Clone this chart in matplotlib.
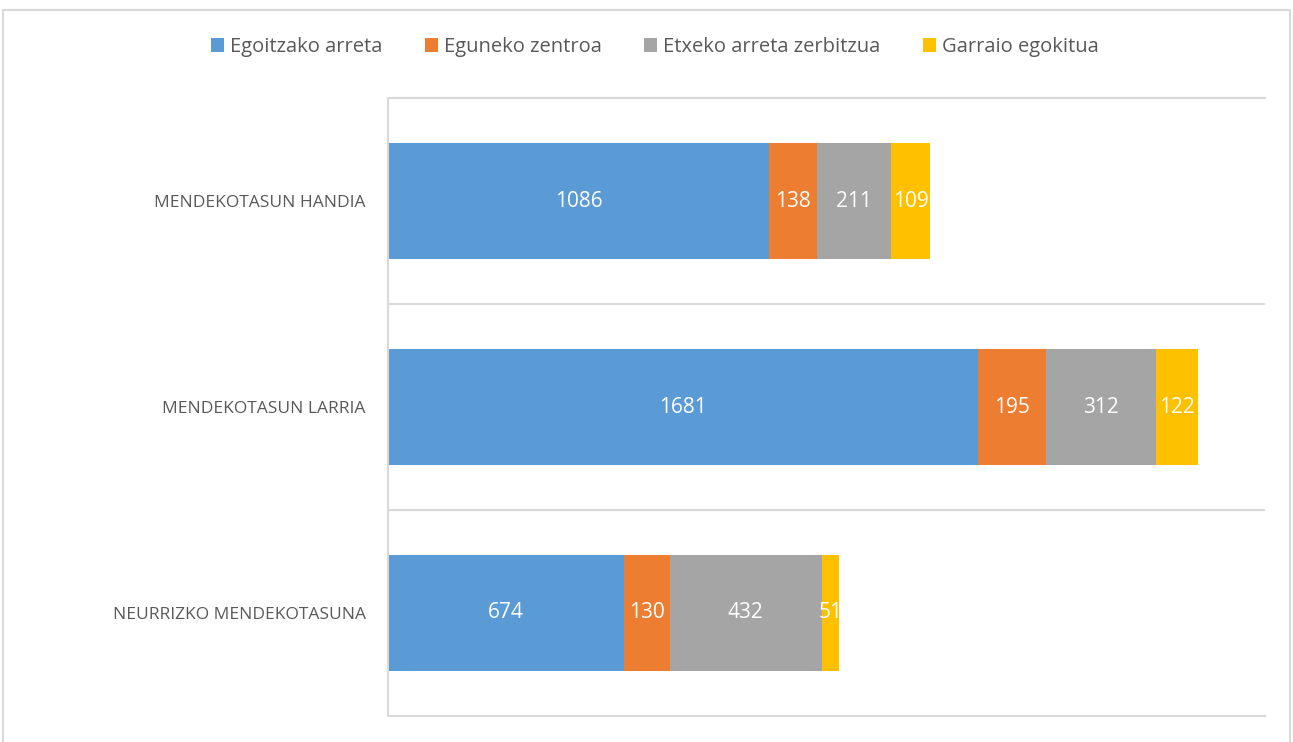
import matplotlib
matplotlib.use("Agg")
import matplotlib.pyplot as plt
from matplotlib.patches import Rectangle

categories = ["MENDEKOTASUN HANDIA", "MENDEKOTASUN LARRIA", "NEURRIZKO MENDEKOTASUNA"]
series_names = ["Egoitzako arreta", "Eguneko zentroa", "Etxeko arreta zerbitzua", "Garraio egokitua"]
egoitzako = [1086, 1681, 674]
eguneko = [138, 195, 130]
etxeko = [211, 312, 432]
garraio = [109, 122, 51]
series_values = [egoitzako, eguneko, etxeko, garraio]
colors = ["#5B9BD5", "#ED7D31", "#A5A5A5", "#FFC000"]

plt.rcParams['font.family'] = ['Open Sans', 'DejaVu Sans']

fig = plt.figure(figsize=(12.93, 7.42), dpi=100)
ax = fig.add_axes([388/1293, 1-716/742, (1265-388)/1293, (716-98)/742])

ypos = list(range(len(categories)))
left = [0]*len(categories)
for name, vals, col in zip(series_names, series_values, colors):
    bars = ax.barh(ypos, vals, left=left, height=0.56, color=col, label=name, edgecolor='none')
    for b, v in zip(bars, vals):
        ax.text(b.get_x() + b.get_width()/2, b.get_y() + b.get_height()/2, str(v),
                ha='center', va='center', color='white', fontsize=15)
    left = [l + v for l, v in zip(left, vals)]

ax.set_xlim(0, 2500)
ax.set_ylim(2.5, -0.5)
ax.set_xticks([])
ax.set_yticks(ypos)
ax.set_yticklabels(categories)
for t in ax.get_yticklabels():
    t.set_color('#595959')
    t.set_fontsize(12.5)
ax.tick_params(axis='y', length=0, pad=16)
ax.set_yticks([0.5, 1.5], minor=True)
ax.tick_params(axis='y', which='minor', length=0)
ax.grid(True, axis='y', which='minor', color='#D9D9D9', linewidth=1.5)
ax.set_axisbelow(True)
ax.spines['right'].set_visible(False)
for s in ['top', 'bottom', 'left']:
    ax.spines[s].set_color('#D9D9D9')
    ax.spines[s].set_linewidth(1.5)

leg = fig.legend(loc='center', bbox_to_anchor=(655/1293, 1-47/742), ncol=4, frameon=False,
                 fontsize=14.5, handlelength=0.65, handleheight=0.65, handletextpad=0.3,
                 columnspacing=2.1)
for t in leg.get_texts():
    t.set_color('#595959')

fig.patches.append(Rectangle((3/1293, -0.05), 1287/1293, 1.05-10/742, transform=fig.transFigure,
                             fill=False, edgecolor='#D9D9D9', linewidth=1.5))

fig.savefig("out.png", dpi=100)
